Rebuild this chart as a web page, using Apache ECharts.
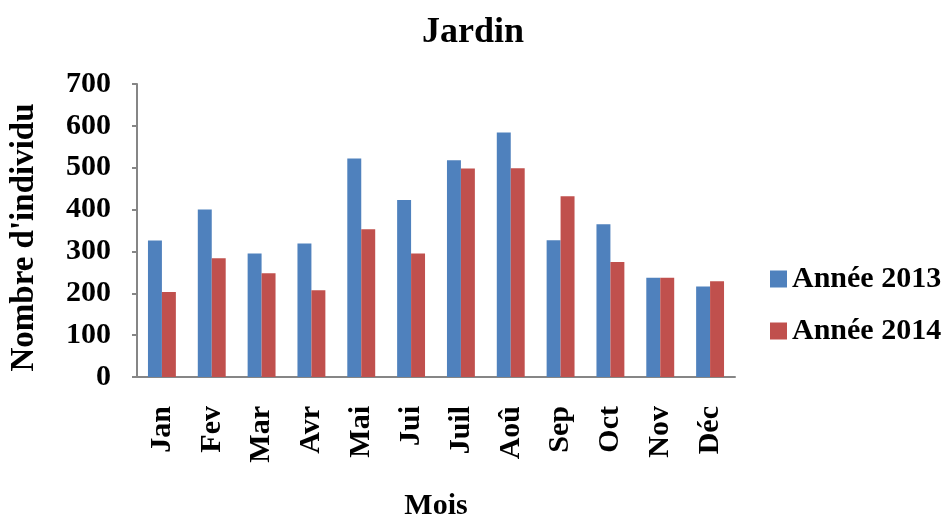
<!DOCTYPE html>
<html><head><meta charset="utf-8">
<script src="https://cdn.jsdelivr.net/npm/echarts@6/dist/echarts.min.js"></script>
<style>html,body{margin:0;padding:0;background:#fff}#c{width:952px;height:519px}</style>
</head><body><div id="c"></div>
<script>
const categories = ["Jan","Fev","Mar","Avr","Mai","Jui","Juil","Aoû","Sep","Oct","Nov","Déc"];
const values2013 = [326,400,295,319,522,423,518,584,327,365,237,216];
const values2014 = [203,284,248,207,353,295,498,499,432,275,237,229];
const seriesNames = ["Année 2013","Année 2014"];
const yTicks = {min:0,max:700,interval:100};

const font = "'Liberation Serif','Times New Roman',serif";
const chart = echarts.init(document.getElementById('c'));
chart.setOption({
  animation:false,
  title:{text:"Jardin",left:468,top:10,textAlign:'center',
    textStyle:{fontFamily:font,fontWeight:'bold',fontSize:36,color:'#000'}},
  legend:{orient:'vertical',left:765,top:259,itemGap:22,itemWidth:17,itemHeight:17,
    icon:'rect',textStyle:{fontFamily:font,fontWeight:'bold',fontSize:30,color:'#000'}},
  grid:{left:137,right:217,top:84,bottom:142,outerBoundsMode:'none',containLabel:false},
  xAxis:{type:'category',data:categories,
    name:'Mois',nameLocation:'middle',nameGap:114,
    nameTextStyle:{fontFamily:font,fontWeight:'bold',fontSize:30,color:'#000'},
    axisLine:{lineStyle:{color:'#868686',width:2}},axisTick:{show:false},
    axisLabel:{rotate:90,fontFamily:font,fontWeight:'bold',fontSize:30,color:'#000',margin:29}},
  yAxis:{type:'value',min:yTicks.min,max:yTicks.max,interval:yTicks.interval,
    name:"Nombre d'individu",nameLocation:'middle',nameGap:96,
    nameTextStyle:{fontFamily:font,fontWeight:'bold',fontSize:33,color:'#000',padding:[0,14,0,0]},
    splitLine:{show:false},
    axisLine:{show:true,lineStyle:{color:'#868686',width:2}},
    axisTick:{show:true,length:5,lineStyle:{color:'#868686',width:2}},
    axisLabel:{fontFamily:font,fontWeight:'bold',fontSize:30,color:'#000',margin:26}},
  series:[
    {name:seriesNames[0],type:'bar',data:values2013,barGap:'0%',barCategoryGap:'44%',
     itemStyle:{color:'#4F81BD'}},
    {name:seriesNames[1],type:'bar',data:values2014,
     itemStyle:{color:'#C0504D'}}
  ]
});
</script></body></html>
